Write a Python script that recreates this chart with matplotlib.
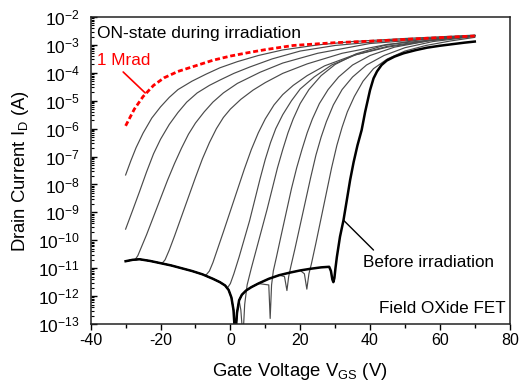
import numpy as np
import matplotlib
matplotlib.use("Agg")
import matplotlib.pyplot as plt
from matplotlib.ticker import FixedLocator, MultipleLocator, NullFormatter, FuncFormatter

plt.rcParams['font.family'] = ['Liberation Sans', 'DejaVu Sans']
plt.rcParams['mathtext.fontset'] = 'custom'
plt.rcParams['mathtext.rm'] = 'Liberation Sans'
plt.rcParams['mathtext.it'] = 'Liberation Sans:italic'
plt.rcParams['mathtext.default'] = 'regular'
plt.rcParams['axes.unicode_minus'] = False

# ---- data: gate voltage (V) and log10 of drain current (A) ----
# common OFF-state leakage floor
floor_v = [-30, -28, -26, -23, -20, -17, -14, -11, -8, -5, -3, -1.5, -0.5, 0.3, 0.9, 1.4,
           1.9, 2.5, 3.3, 4.5, 6, 8, 11, 14, 17, 20, 23, 26, 28.3]
floor_l = [-10.75, -10.7, -10.68, -10.74, -10.82, -10.9, -11.0, -11.1, -11.22, -11.38, -11.5,
           -11.62, -11.78, -12.05, -12.5, -13.5, -12.6, -12.15, -11.95, -11.8, -11.68, -11.55,
           -11.38, -11.25, -11.16, -11.08, -11.02, -10.97, -10.95]

# before irradiation (rise part after the leakage floor)
before_v = [28.8, 29.2, 29.5, 29.8, 30.1, 30.5, 31.4, 32.4, 33.3, 34.3, 35.3, 36.4, 37.6, 38.6,
            40.0, 41.0, 42.0, 43.3, 44.8, 47, 49.6, 53, 56.3, 60, 63.8, 67, 70]
before_l = [-11.1, -11.4, -11.5, -11.35, -11.0, -10.6, -9.87, -9.28, -8.6, -7.84, -7.2, -6.6,
            -6.05, -5.4, -4.62, -4.2, -3.95, -3.72, -3.56, -3.42, -3.3, -3.19, -3.1, -3.03,
            -2.97, -2.92, -2.88]

# 1 Mrad
mrad_v = [-30, -27.5, -25, -22, -19, -15, -10, -5, 0, 5, 10, 18, 30, 43, 55, 70]
mrad_l = [-5.9, -5.3, -4.85, -4.45, -4.18, -3.95, -3.75, -3.55, -3.4, -3.28, -3.17, -3.02,
          -2.92, -2.85, -2.77, -2.68]

# intermediate doses (rise parts)
g1_v = [-30, -28.5, -27, -25, -22.5, -20, -17.5, -15, -11, -7, -3, 2, 8, 15, 25, 35, 50, 70]
g1_l = [-7.66, -7.15, -6.68, -6.16, -5.62, -5.22, -4.88, -4.6, -4.3, -4.05, -3.82, -3.6, -3.38,
        -3.18, -3.0, -2.88, -2.77, -2.65]
g2_v = [-30, -28, -26, -24, -22, -20, -17.5, -15, -12.5, -9.5, -6, -3, 1, 5.6, 12, 20, 30, 45, 70]
g2_l = [-9.6, -8.93, -8.25, -7.55, -6.9, -6.38, -5.85, -5.42, -5.05, -4.72, -4.45, -4.26, -4.02,
        -3.79, -3.5, -3.22, -3.02, -2.85, -2.67]
g3_v = [-27.2, -26.5, -25.5, -24, -22, -20, -18, -16, -14, -12, -10, -7.5, -5, -2, 2, 8.5, 15,
        25, 40, 70]
g3_l = [-10.68, -10.55, -10.25, -9.8, -9.15, -8.5, -7.85, -7.25, -6.7, -6.2, -5.8, -5.4, -5.05,
        -4.72, -4.38, -3.98, -3.65, -3.3, -2.95, -2.66]
g4_v = [-19.5, -18.7, -17.5, -16, -14, -12, -10, -8, -6, -4, -2, 0, 3, 6.5, 10, 15, 22, 32, 45, 70]
g4_l = [-10.82, -10.7, -10.35, -9.85, -9.15, -8.45, -7.75, -7.08, -6.5, -6.0, -5.6, -5.3, -4.95,
        -4.62, -4.35, -4.02, -3.68, -3.3, -2.98, -2.67]
g5_v = [-7, -6, -5, -3.5, -2, 0, 2, 4, 6, 8, 10, 12.5, 15, 18, 22, 27, 35, 45, 57, 70]
g5_l = [-11.25, -11.1, -10.8, -10.25, -9.7, -8.95, -8.2, -7.45, -6.75, -6.15, -5.65, -5.15,
        -4.78, -4.45, -4.1, -3.75, -3.38, -3.08, -2.85, -2.67]
g6_v = [-0.8, 0, 1, 2.5, 4, 5.5, 7, 8.5, 10, 11.5, 13, 15, 17.5, 20, 24, 29, 36, 45, 57, 70]
g6_l = [-11.7, -11.55, -11.2, -10.6, -9.95, -9.3, -8.55, -7.8, -7.1, -6.5, -6.0, -5.5, -5.0,
        -4.58, -4.15, -3.72, -3.35, -3.05, -2.83, -2.67]
g7_v = [3.0, 3.6, 4.1, 4.8, 6, 7.5, 9, 10.5, 12, 13.5, 15, 16.5, 18, 20, 22.5, 26, 30, 36, 44,
        55, 70]
g7_l = [-12.5, -13.5, -12.3, -11.6, -11.0, -10.3, -9.6, -8.9, -8.15, -7.4, -6.75, -6.15, -5.65,
        -5.1, -4.6, -4.1, -3.7, -3.32, -3.02, -2.8, -2.66]
g8_v = [11.0, 11.4, 11.8, 12.3, 13.2, 14.5, 16, 17.5, 19, 20.5, 22, 23.5, 25.5, 28, 31, 35, 40,
        47, 57, 70]
g8_l = [-11.6, -12.8, -11.6, -11.1, -10.6, -9.85, -9.0, -8.15, -7.4, -6.75, -6.15, -5.65, -5.1,
        -4.6, -4.15, -3.72, -3.38, -3.08, -2.85, -2.68]
g9_v = [15.5, 16.2, 16.7, 17.3, 18.5, 20, 21.5, 23, 24.5, 26, 27.5, 29.5, 32, 35, 39, 44, 50,
        58, 70]
g9_l = [-11.3, -11.8, -11.3, -10.95, -10.3, -9.45, -8.6, -7.75, -6.95, -6.3, -5.75, -5.15, -4.6,
        -4.15, -3.72, -3.38, -3.1, -2.88, -2.7]
g10_v = [21.2, 21.9, 22.5, 23.2, 24.5, 26, 27.5, 29, 30.5, 32, 33.5, 35.5, 38, 41, 45, 50, 56,
         63, 70]
g10_l = [-11.2, -11.75, -11.2, -10.85, -10.1, -9.2, -8.3, -7.4, -6.6, -5.95, -5.4, -4.85, -4.3,
         -3.85, -3.5, -3.22, -3.02, -2.86, -2.73]

grey_curves = [(g1_v, g1_l), (g2_v, g2_l), (g3_v, g3_l), (g4_v, g4_l), (g5_v, g5_l),
               (g6_v, g6_l), (g7_v, g7_l), (g8_v, g8_l), (g9_v, g9_l), (g10_v, g10_l)]

x_ticks = [-40, -20, 0, 20, 40, 60, 80]
y_exps = list(range(-13, -1))


def with_floor(v, l):
    fv = [a for a in floor_v if a < v[0]]
    fl = [b for a, b in zip(floor_v, floor_l) if a < v[0]]
    return np.array(fv + list(v)), 10.0 ** np.array(fl + list(l))


fig = plt.figure(figsize=(5.24, 3.88), dpi=100)
ax = fig.add_axes([0.1731, 0.1649, 0.7996, 0.7913])

for v, l in grey_curves:
    x, y = with_floor(v, l)
    ax.plot(x, y, color='#4a4a4a', lw=0.85, solid_joinstyle='round')

x, y = with_floor(before_v, before_l)
ax.plot(x, y, color='black', lw=1.8, solid_joinstyle='round')

ax.plot(mrad_v, 10.0 ** np.array(mrad_l), color='#ff0000', lw=2.0, dashes=(1.8, 1.0))

ax.set_yscale('log')
ax.set_xlim(-40, 80)
ax.set_ylim(1e-13, 1e-2)
ax.xaxis.set_major_locator(FixedLocator(x_ticks))
ax.xaxis.set_minor_locator(MultipleLocator(10))
ax.yaxis.set_major_locator(FixedLocator([10.0 ** e for e in y_exps]))
ax.yaxis.set_minor_locator(FixedLocator([m * 10.0 ** e for e in y_exps[:-1] for m in range(2, 10)]))
ax.yaxis.set_minor_formatter(NullFormatter())
ax.yaxis.set_major_formatter(FuncFormatter(lambda val, pos: r'$10^{%d}$' % round(np.log10(val))))

ax.tick_params(axis='x', which='major', direction='out', length=4.5, width=1.0, labelsize=11.5,
               pad=2, top=False)
ax.tick_params(axis='x', which='minor', direction='out', length=3, width=1.0, top=False)
ax.tick_params(axis='y', which='major', direction='in', length=4, width=1.0, labelsize=12.5,
               pad=8, right=False)
ax.tick_params(axis='y', which='minor', direction='in', length=2.2, width=0.8, right=False)
for s in ax.spines.values():
    s.set_linewidth(1.1)
    s.set_color('#222222')

ax.set_xlabel(r'Gate Voltage V$_{GS}$ (V)', fontsize=13.3, labelpad=9)
ax.set_ylabel(r'Drain Current I$_D$ (A)', fontsize=13.3, labelpad=5)

ax.text(0.015, 0.945, 'ON-state during irradiation', transform=ax.transAxes, fontsize=12.5,
        ha='left', va='center')
ax.text(-38.3, 10 ** -3.55, '1 Mrad', color='#ff0000', fontsize=12.3, ha='left', va='center')
ax.annotate('', xy=(-24.4, 10 ** -4.72), xytext=(-30.7, 10 ** -3.97),
            arrowprops=dict(arrowstyle='-', color='#ff0000', lw=1.2, shrinkA=0, shrinkB=0))
ax.text(38.0, 10 ** -10.8, 'Before irradiation', fontsize=12.3, ha='left', va='center')
ax.annotate('', xy=(32.4, 10 ** -9.28), xytext=(41.0, 10 ** -10.35),
            arrowprops=dict(arrowstyle='-', color='black', lw=1.0, shrinkA=0, shrinkB=0))
ax.text(0.99, 0.052, 'Field OXide FET', transform=ax.transAxes, fontsize=12.3, ha='right',
        va='center')

fig.savefig('out.png', dpi=100)
